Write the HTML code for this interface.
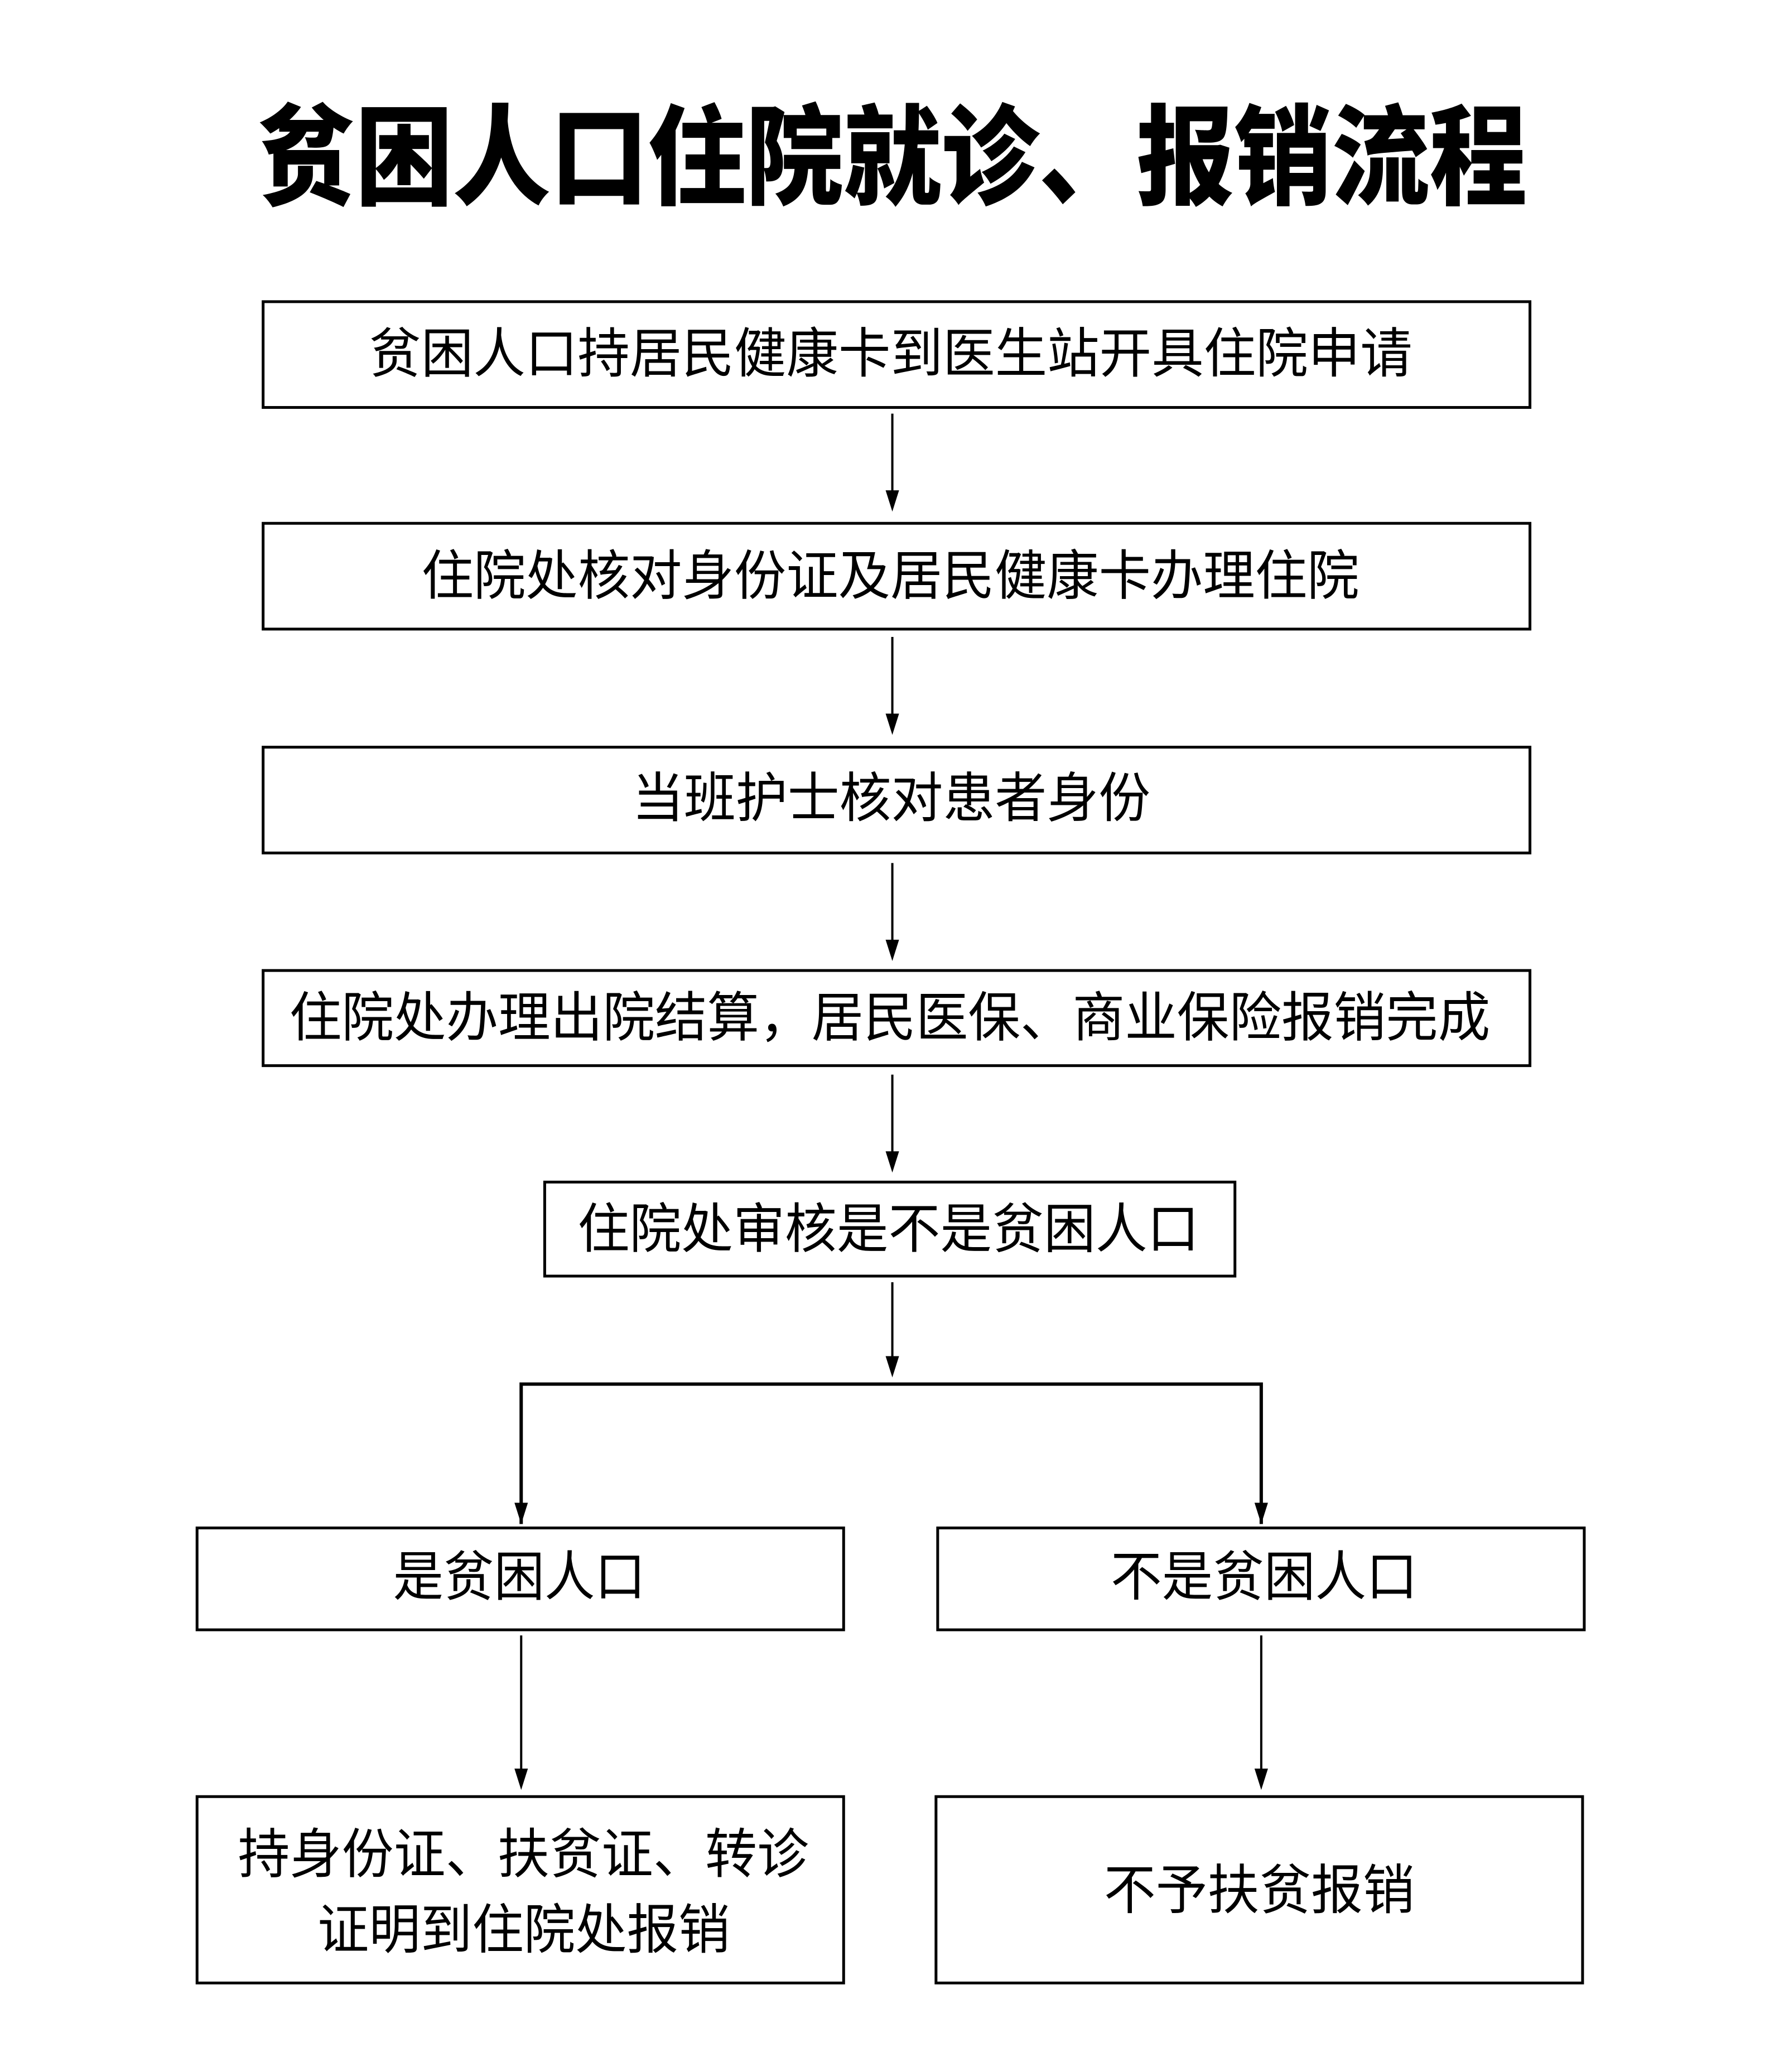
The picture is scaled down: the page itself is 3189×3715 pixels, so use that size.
<!DOCTYPE html>
<html><head><meta charset="utf-8"><style>
html,body{margin:0;padding:0;background:#fff;}
svg{display:block;}
text{font-family:"Liberation Sans","Noto Sans CJK SC",sans-serif;fill:#000;}
</style></head><body>
<svg width="3189" height="3715" viewBox="0 0 3189 3715" xmlns="http://www.w3.org/2000/svg">
<g transform="scale(1.0035)">
<text x="460" y="266" font-size="195" font-weight="900" dominant-baseline="central" textLength="2268" lengthAdjust="spacingAndGlyphs" style="font-family:'Noto Sans CJK SC',sans-serif">贫困人口住院就诊、报销流程</text>
<g fill="none" stroke="#000" stroke-width="5">
<rect x="470" y="539" width="2263" height="189"/>
<rect x="470" y="935" width="2263" height="189"/>
<rect x="470" y="1335" width="2263" height="189"/>
<rect x="470" y="1734" width="2263" height="170"/>
<rect x="973" y="2112" width="1233" height="168"/>
<rect x="352" y="2730" width="1155" height="182"/>
<rect x="1675" y="2730" width="1155" height="182"/>
<rect x="352" y="3210" width="1155" height="333"/>
<rect x="1672" y="3210" width="1155" height="333"/>
<polyline points="931,2723 931,2473 2253,2473 2253,2723" stroke-width="6"/>
</g>
<g stroke="#000" stroke-width="4">
<line x1="1594" y1="739" x2="1594" y2="880"/>
<line x1="1594" y1="1138" x2="1594" y2="1280"/>
<line x1="1594" y1="1542" x2="1594" y2="1682"/>
<line x1="1594" y1="1920" x2="1594" y2="2060"/>
<line x1="1594" y1="2291" x2="1594" y2="2430"/>
<line x1="931" y1="2473" x2="931" y2="2690"/>
<line x1="2253" y1="2473" x2="2253" y2="2690"/>
<line x1="931" y1="2922" x2="931" y2="3165"/>
<line x1="2253" y1="2922" x2="2253" y2="3165"/>
</g>
<g fill="#000">
<path d="M1582,876 L1606,876 L1594,914 Z"/>
<path d="M1582,1275 L1606,1275 L1594,1313 Z"/>
<path d="M1582,1679 L1606,1679 L1594,1717 Z"/>
<path d="M1582,2057 L1606,2057 L1594,2095 Z"/>
<path d="M1582,2423 L1606,2423 L1594,2461 Z"/>
<path d="M919,2685 L943,2685 L931,2723 Z"/>
<path d="M2241,2685 L2265,2685 L2253,2723 Z"/>
<path d="M919,3160 L943,3160 L931,3198 Z"/>
<path d="M2241,3160 L2265,3160 L2253,3198 Z"/>
</g>
<g font-size="96" dominant-baseline="central">
<text x="659" y="633" textLength="1864" lengthAdjust="spacingAndGlyphs">贫困人口持居民健康卡到医生站开具住院申请</text>
<text x="753" y="1030" textLength="1675" lengthAdjust="spacingAndGlyphs">住院处核对身份证及居民健康卡办理住院</text>
<text x="1129" y="1427" textLength="926" lengthAdjust="spacingAndGlyphs">当班护士核对患者身份</text>
<text x="517" y="1819" textLength="2145" lengthAdjust="spacingAndGlyphs">住院处办理出院结算，居民医保、商业保险报销完成</text>
<text x="1032" y="2197" textLength="1110" lengthAdjust="spacingAndGlyphs">住院处审核是不是贫困人口</text>
<text x="702" y="2818" textLength="451" lengthAdjust="spacingAndGlyphs">是贫困人口</text>
<text x="1984" y="2818" textLength="548" lengthAdjust="spacingAndGlyphs">不是贫困人口</text>
<text x="425" y="3314" textLength="1020" lengthAdjust="spacingAndGlyphs">持身份证、扶贫证、转诊</text>
<text x="567" y="3449" textLength="737" lengthAdjust="spacingAndGlyphs">证明到住院处报销</text>
<text x="1972" y="3378" textLength="555" lengthAdjust="spacingAndGlyphs">不予扶贫报销</text>
</g>
</g>
</svg>
</body></html>
